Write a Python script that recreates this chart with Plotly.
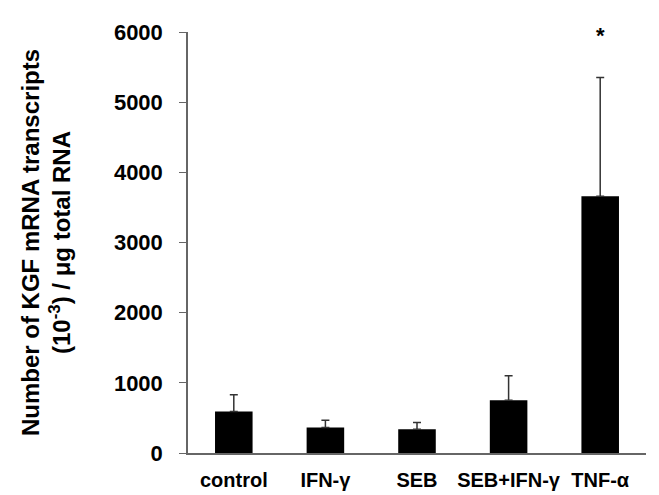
import plotly.graph_objects as go

categories = ["control", "IFN-γ", "SEB", "SEB+IFN-γ", "TNF-α"]
means = [592, 364, 340, 751, 3660]
errors_up = [238, 102, 94, 349, 1692]
y_ticks = [0, 1000, 2000, 3000, 4000, 5000, 6000]
star_label = "*"

FONT = "Liberation Sans, Arial, sans-serif"

fig = go.Figure()
fig.add_trace(go.Bar(
    x=categories, y=means,
    marker=dict(color="black", line=dict(width=0)),
    width=0.41,
    error_y=dict(type="data", array=errors_up, arrayminus=[0]*len(means),
                 symmetric=False, color="#333333", thickness=1.5, width=4),
))

fig.add_annotation(x=categories[-1], y=means[-1] + errors_up[-1], yshift=42,
                   text=star_label, showarrow=False,
                   font=dict(family=FONT, size=22, color="black", weight="bold"))

fig.update_layout(
    width=659, height=495,
    margin=dict(l=180, r=21, t=22, b=44),
    paper_bgcolor="white", plot_bgcolor="white",
    showlegend=False,
    bargap=0.59,
    font=dict(family=FONT, color="black"),
    xaxis=dict(
        range=[-0.5, 4.5], showline=True, linecolor="#666666", linewidth=1.5,
        ticks="", tickfont=dict(family=FONT, size=20, color="black", weight="bold"),
        ticklabelstandoff=8,
    ),
    yaxis=dict(
        range=[0, 6000], tickvals=y_ticks, showline=True, linecolor="#666666",
        linewidth=1.5, ticks="outside", ticklen=7, tickcolor="#666666",
        showgrid=False, zeroline=False,
        tickfont=dict(family=FONT, size=22, color="black", weight="bold"),
        ticklabelstandoff=12,
        title=dict(text="Number of KGF mRNA transcripts<br>(10<sup>-3</sup>) / μg total RNA",
                   font=dict(family=FONT, size=24, color="black", weight="bold"),
                   standoff=36),
    ),
)

fig.write_html("out.html")
